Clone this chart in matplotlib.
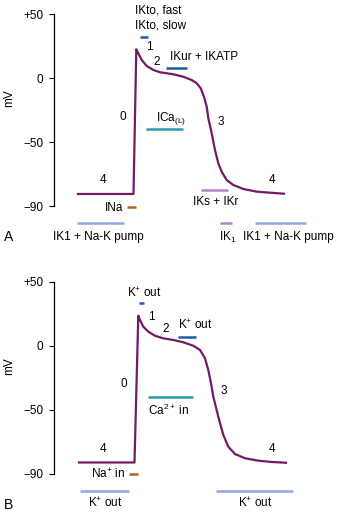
import matplotlib.pyplot as plt

plt.rcParams['font.family'] = ['Liberation Sans', 'DejaVu Sans']
plt.rcParams['mathtext.fontset'] = 'custom'
plt.rcParams['mathtext.rm'] = 'Liberation Sans'
plt.rcParams['mathtext.it'] = 'Liberation Sans'

# action potential traces (time in arbitrary units, voltage in plot units: -100 = "-90" tick)
t_a = [78, 133.5, 136.3, 138.3, 141.7, 146.7, 153.3, 160, 166.7, 173.3, 183.3, 191.7, 196.7, 200.7,
       204, 206.7, 208.3, 211, 213, 215, 218.3, 221.7, 226.7, 233.3, 243.3, 256.7, 270, 284]
v_a = [-90.6, -90.6, 22.4, 19.3, 14.1, 9.4, 6.25, 4.5, 3.7, 2.9, 1.0, -1.6, -4.1, -8.0,
       -14.6, -22.4, -31.3, -40.6, -48.4, -56.3, -66.6, -73.2, -79.7, -83.6, -86.7, -88.8, -89.6, -90.4]
t_b = [79, 134.5, 138.3, 140, 143.3, 148.3, 155, 163.3, 173.3, 183.3, 193.3, 200, 205, 208.3,
       211, 213.3, 218.3, 223.3, 228.3, 235, 245, 258.3, 271.7, 286]
v_b = [-91, -91, 23.7, 20.3, 15.1, 11.2, 8.0, 6.0, 4.7, 2.9, 0.2, -3.1, -9.6, -18.8,
       -29.1, -39.6, -55.2, -69.5, -78.7, -84.4, -87.7, -89.6, -90.6, -91.2]

# current bars: start, end, level, colour
bars_a = [
    (140, 148, 32.3, '#2058a8'),   # IKto
    (166, 187, 7.8, '#2058a8'),    # IKur + IKATP
    (146, 183, -40.2, '#2a9aae'),  # ICa(L)
    (127, 136, -100.8, '#b5621e'), # INa
    (77, 124, -113.5, '#8fa6e0'),  # IK1 + pump
    (201, 228, -87.7, '#b583c4'),  # IKs + IKr
    (220, 232, -113.3, '#b583c4'), # IK1
    (255, 306, -113.3, '#8fa6e0'), # IK1 + pump
]
bars_b = [
    (139, 144, 33.6, '#2058a8'),
    (178, 196, 7.0, '#2058a8'),
    (148, 193, -40.2, '#2a9aae'),
    (129, 138, -100, '#b5621e'),
    (80, 129, -113.5, '#8fa6e0'),
    (216, 293, -113.3, '#8fa6e0'),
]

# labels: x, y, text, horizontal alignment
labels_a = [
    (135, 53.1, 'IKto, fast', 'left'),
    (135, 41.4, 'IKto, slow', 'left'),
    (149, 24.2, '1', 'center'),
    (157, 12.5, '2', 'center'),
    (170, 16.4, 'IKur + IKATP', 'left'),
    (123, -30.5, '0', 'center'),
    (156, -31.3, r'ICa$_{\mathrm{(L)}}$', 'left'),
    (221, -34.4, '3', 'center'),
    (103, -79.7, '4', 'center'),
    (272, -79.7, '4', 'center'),
    (123, -101.6, 'INa', 'right'),
    (193, -96.9, 'IKs + IKr', 'left'),
    (53, -124.2, 'IK1 + Na-K pump', 'left'),
    (219, -124.2, r'IK$_1$', 'left'),
    (243, -124.2, 'IK1 + Na-K pump', 'left'),
]
labels_b = [
    (127, 41.4, r'K$^{+}$ out', 'left'),
    (151, 22.7, '1', 'center'),
    (166, 13.3, '2', 'center'),
    (178, 16.4, r'K$^{+}$ out', 'left'),
    (124, -29.7, '0', 'center'),
    (148, -50, r'Ca$^{2+}$ in', 'left'),
    (224, -35.2, '3', 'center'),
    (103, -80.5, '4', 'center'),
    (272, -80.5, '4', 'center'),
    (125, -100, r'Na$^{+}$ in', 'right'),
    (105, -122.7, r'K$^{+}$ out', 'center'),
    (255, -122.7, r'K$^{+}$ out', 'center'),
]

yticks = [50, 0, -50, -100]
ytick_labels = ['+50', '0', '\u221250', '\u221290']
FS = 8.5


def draw_panel(ax, t, v, bars, labels, letter, ylim):
    ax.set_xlim(0, 337)
    ax.set_ylim(*ylim)
    ax.plot(t, v, color='#711b67', lw=1.6, solid_joinstyle='round')
    for x0, x1, y, c in bars:
        ax.plot([x0, x1], [y, y], color=c, lw=1.8, solid_capstyle='butt')
    for x, y, s, ha in labels:
        ax.text(x, y, s, ha=ha, va='center', fontsize=FS)
    ax.text(4, -124, letter, ha='left', va='center', fontsize=10)
    ax.text(9, -15.6, 'mV', rotation=90, ha='center', va='center', fontsize=FS)

    for side in ['top', 'right', 'bottom']:
        ax.spines[side].set_visible(False)
    ax.spines['left'].set_position(('data', 54))
    ax.spines['left'].set_bounds(-100, 50)
    ax.spines['left'].set_linewidth(0.9)
    ax.set_xticks([])
    ax.set_yticks(yticks)
    ax.set_yticklabels(ytick_labels, fontsize=FS)
    ax.tick_params(axis='y', length=3.6, width=0.8, pad=4)
    ax.patch.set_alpha(0)


fig = plt.figure(figsize=(3.37, 5.13), dpi=100)
ax_a = fig.add_axes([0, 1 - 256 / 513, 1, 256 / 513])
ax_b = fig.add_axes([0, 0, 1, 256 / 513])

draw_panel(ax_a, t_a, v_a, bars_a, labels_a, 'A', (-139.06, 60.94))
draw_panel(ax_b, t_b, v_b, bars_b, labels_b, 'B', (-130.47, 69.53))

fig.savefig('out.png', dpi=100)
